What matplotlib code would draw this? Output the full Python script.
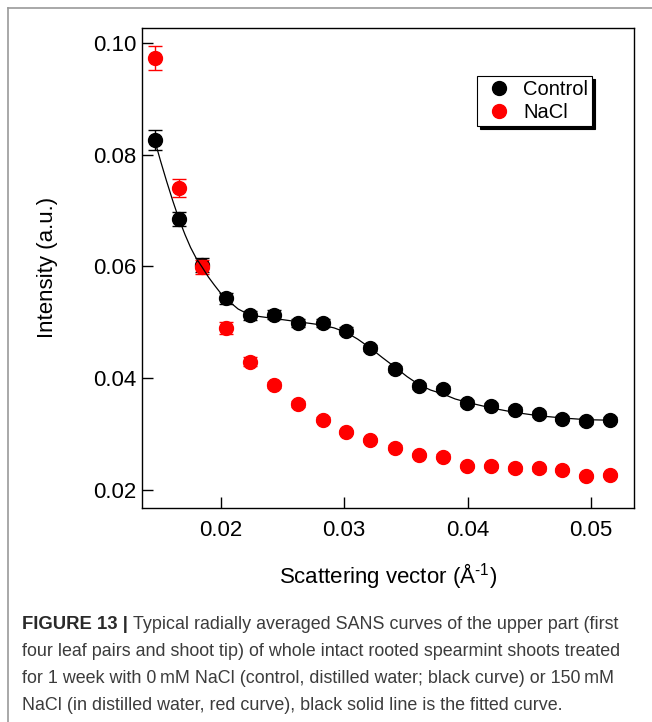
import numpy as np
import matplotlib
matplotlib.use("Agg")
import matplotlib.pyplot as plt
from matplotlib.lines import Line2D

plt.rcParams['font.family'] = ['Liberation Sans', 'DejaVu Sans']
plt.rcParams['mathtext.fontset'] = 'custom'
plt.rcParams['mathtext.rm'] = 'Liberation Sans'
plt.rcParams['mathtext.it'] = 'Liberation Sans'

# scattering vector (1/A)
q = [0.01464, 0.01659, 0.01851, 0.02043, 0.02236, 0.02430, 0.02627,
     0.02826, 0.03017, 0.03213, 0.03412, 0.03604, 0.03800, 0.03998,
     0.04190, 0.04382, 0.04578, 0.04770, 0.04962, 0.05155]

# radially averaged intensities (a.u.) and their errors
control = [0.0826, 0.0685, 0.0603, 0.0543, 0.0513, 0.0514, 0.0499,
           0.0499, 0.0485, 0.0454, 0.0417, 0.0386, 0.0381, 0.0356,
           0.0351, 0.0344, 0.0336, 0.0328, 0.0324, 0.0326]
control_err = [0.0018, 0.0013, 0.0013, 0.0010, 0.0008, 0.0008, 0.0007,
               0.0007, 0.0006, 0.0006, 0.0005, 0.0005, 0.0005, 0.0005,
               0.0005, 0.0005, 0.0005, 0.0005, 0.0005, 0.0005]
nacl = [0.0973, 0.0740, 0.0599, 0.0490, 0.0430, 0.0388, 0.0354,
        0.0326, 0.0304, 0.0290, 0.0276, 0.0263, 0.0260, 0.0243,
        0.0243, 0.0239, 0.0239, 0.0236, 0.0225, 0.0227]
nacl_err = [0.0021, 0.0016, 0.0012, 0.0010, 0.0008, 0.0006, 0.0005,
            0.0004, 0.0004, 0.0004, 0.0004, 0.0004, 0.0004, 0.0004,
            0.0004, 0.0004, 0.0004, 0.0004, 0.0004, 0.0004]

# fitted curve for the control sample
fit_q = [0.01464, 0.01510, 0.01560, 0.01610, 0.01659, 0.01710, 0.01755,
         0.01800, 0.01851, 0.01900, 0.01947, 0.02000, 0.02043, 0.02140,
         0.02236, 0.02330, 0.02430, 0.02530, 0.02627, 0.02730, 0.02826,
         0.02920, 0.03017, 0.03110, 0.03213, 0.03310, 0.03412, 0.03510,
         0.03604, 0.03700, 0.03800, 0.03900, 0.03998, 0.04190, 0.04382,
         0.04578, 0.04770, 0.04962, 0.05155]
fit_i = [0.0826, 0.0790, 0.0753, 0.0718, 0.0686, 0.0657, 0.0634,
         0.0615, 0.0598, 0.0581, 0.0567, 0.0552, 0.0542, 0.0524,
         0.0513, 0.0510, 0.0507, 0.0504, 0.0501, 0.0498, 0.0495,
         0.0490, 0.0482, 0.0470, 0.0454, 0.0437, 0.0420, 0.0403,
         0.0389, 0.0379, 0.0372, 0.0363, 0.0357, 0.0347, 0.0339,
         0.0333, 0.0329, 0.0326, 0.0325]

xticks = [0.02, 0.03, 0.04, 0.05]
yticks = [0.02, 0.04, 0.06, 0.08, 0.10]

fig = plt.figure(figsize=(6.52, 7.22), dpi=100)
ax = fig.add_axes([0.2181, 0.2964, 0.7538, 0.6652])

# control points with error bars
ax.errorbar(q, control, yerr=control_err, fmt='none', ecolor='black',
            elinewidth=1.0, capsize=5, capthick=1.0, zorder=2)
ax.plot(q, control, 'o', color='black', markersize=10, label='Control', zorder=3)

# salt treated points
ax.errorbar(q, nacl, yerr=nacl_err, fmt='none', ecolor='red',
            elinewidth=1.0, capsize=5, capthick=1.0, zorder=4)
ax.plot(q, nacl, 'o', color='red', markersize=10, label='NaCl', zorder=5)

# fit
ax.plot(fit_q, fit_i, '-', color='black', linewidth=0.9, zorder=6)

ax.set_xlim(0.01363, 0.05347)
ax.set_ylim(0.0168, 0.1027)
ax.set_xticks(xticks)
ax.set_yticks(yticks)
ax.set_xticklabels([f'{v:.2f}' for v in xticks])
ax.set_yticklabels([f'{v:.2f}' for v in yticks])
ax.tick_params(axis='both', direction='in', length=8, width=1.0,
               labelsize=16)
ax.tick_params(axis='x', pad=9)
ax.tick_params(axis='y', pad=4)
for s in ax.spines.values():
    s.set_linewidth(1.0)

ax.set_ylabel('Intensity (a.u.)', fontsize=16)
ax.yaxis.set_label_coords(-0.172, 0.5)
ax.set_xlabel(r'Scattering vector (Å$^{\text{-}1}$)', fontsize=16)
ax.xaxis.set_label_coords(0.5, -0.11)

leg = ax.legend(loc='upper left', bbox_to_anchor=(0.681, 0.899),
                borderaxespad=0, fontsize=14.5, handlelength=1.8,
                handletextpad=0.3, labelspacing=0.2, borderpad=0.2,
                fancybox=False, shadow={'color': 'black', 'alpha': 1.0},
                framealpha=1.0)
leg.get_frame().set_edgecolor('black')
leg.get_frame().set_linewidth(0.8)

# page frame lines (top and left)
W, H = 652, 722
fig.add_artist(Line2D([8 / W, 1], [1 - 8 / H, 1 - 8 / H], color='#9a9a9a',
                      linewidth=1.2, transform=fig.transFigure))
fig.add_artist(Line2D([8 / W, 8 / W], [0, 1 - 8 / H], color='#9a9a9a',
                      linewidth=1.2, transform=fig.transFigure))

# caption
cap_fonts = ['Liberation Sans']
cap_size = 12.9
cap_color = '#3c3c3c'
x0 = 22 / W
baselines = [629, 656, 683, 710]
lines = [
    'Typical radially averaged SANS curves of the upper part (first',
    'four leaf pairs and shoot tip) of whole intact rooted spearmint shoots treated',
    'for 1 week with 0\u2009mM NaCl (control, distilled water; black curve) or 150\u2009mM',
    'NaCl (in distilled water, red curve), black solid line is the fitted curve.',
]
head = fig.text(x0, 1 - baselines[0] / H, 'FIGURE 13 |', fontsize=13.3,
                fontweight='bold', family=cap_fonts, color='#2a2a2a',
                va='baseline', ha='left')
renderer = fig.canvas.get_renderer()
head_w = head.get_window_extent(renderer).width
fig.text(x0 + (head_w + 5) / W, 1 - baselines[0] / H, lines[0],
         fontsize=cap_size, family=cap_fonts, color=cap_color,
         va='baseline', ha='left')
for b, txt in zip(baselines[1:], lines[1:]):
    fig.text(x0, 1 - b / H, txt, fontsize=cap_size, family=cap_fonts,
             color=cap_color, va='baseline', ha='left')

fig.savefig('out.png', dpi=100)
